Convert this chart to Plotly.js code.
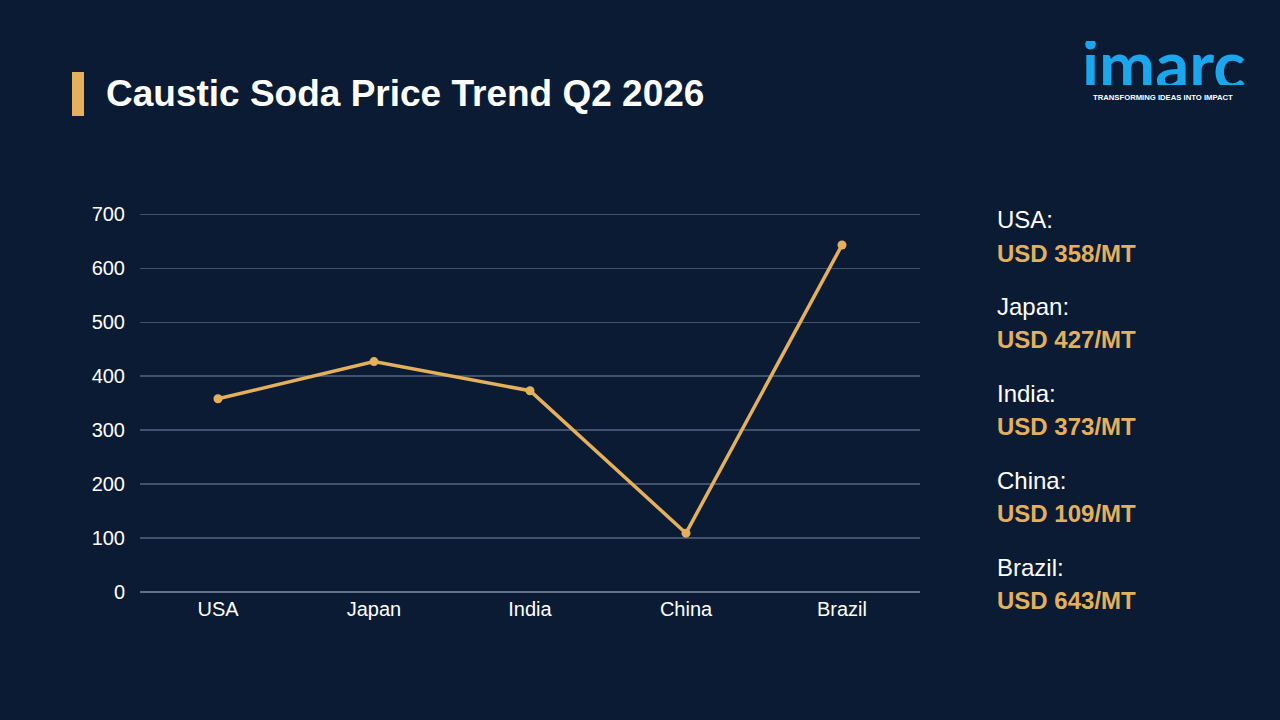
<!DOCTYPE html>
<html>
<head>
<meta charset="utf-8">
<script src="https://cdn.plot.ly/plotly-3.0.1.min.js"></script>
<style>
  html, body { margin: 0; padding: 0; background: #0c1b34; }
  #chart { width: 1280px; height: 720px; }
</style>
</head>
<body>
<div id="chart"></div>
<script>
// Caustic soda prices by country, Q2 2026 (USD per metric ton)
const countries = ["USA", "Japan", "India", "China", "Brazil"];
const prices = [358, 427, 373, 109, 643];
const yTicks = [0, 100, 200, 300, 400, 500, 600, 700];

const gold = "#e4b05c";
const font = "Liberation Sans, Arial, sans-serif";

// Plot frame in pixels, used to place the side texts in paper units
const W = 1280, H = 720;
const M = { l: 140, r: 360, t: 211, b: 128 };
const plotW = W - M.l - M.r, plotH = H - M.t - M.b;
const px = v => (v - M.l) / plotW;
const py = v => (H - M.b - v) / plotH;

const trace = {
  type: "scatter",
  mode: "lines+markers",
  x: countries,
  y: prices,
  line: { color: gold, width: 3.5 },
  marker: { color: gold, size: 9 },
  hoverinfo: "x+y"
};

// Price list on the right-hand side
const annotations = [];
countries.forEach((c, i) => {
  const top = 220 + i * 86.8;
  annotations.push({
    xref: "paper", yref: "paper", x: px(995), y: py(top),
    xanchor: "left", yanchor: "middle", showarrow: false,
    text: c + ":", font: { family: font, size: 24, color: "#ffffff" }
  });
  annotations.push({
    xref: "paper", yref: "paper", x: px(995), y: py(top + 33),
    xanchor: "left", yanchor: "middle", showarrow: false,
    text: "<b>USD " + prices[i] + "/MT</b>", font: { family: font, size: 24, color: gold }
  });
});

// Title
annotations.push({
  xref: "paper", yref: "paper", x: px(104), y: py(93),
  xanchor: "left", yanchor: "middle", showarrow: false,
  text: "<b>Caustic Soda Price Trend Q2 2026</b>",
  font: { family: font, size: 37, color: "#ffffff" }
});

// Brand mark
annotations.push({
  xref: "paper", yref: "paper", x: px(1163), y: py(63),
  xanchor: "center", yanchor: "middle", showarrow: false,
  height: 44,
  text: "<b>imarc</b>",
  font: { family: "Lato, Roboto, sans-serif", size: 67, color: "#1aa7ee" }
});
annotations.push({
  xref: "paper", yref: "paper", x: px(1163), y: py(98),
  xanchor: "center", yanchor: "middle", showarrow: false,
  text: "<b>TRANSFORMING IDEAS INTO IMPACT</b>",
  font: { family: font, size: 7.7, color: "#ffffff" }
});

const layout = {
  width: W,
  height: H,
  paper_bgcolor: "#0c1b34",
  plot_bgcolor: "rgba(0,0,0,0)",
  margin: M,
  showlegend: false,
  xaxis: {
    type: "category",
    range: [-0.5, 4.5],
    showgrid: false,
    zeroline: false,
    showline: false,
    ticks: "",
    ticklabelstandoff: 3,
    tickfont: { family: font, size: 20, color: "#ffffff" },
    fixedrange: true
  },
  yaxis: {
    range: [0, 706],
    tickvals: yTicks,
    ticktext: yTicks.map(String),
    showgrid: true,
    gridcolor: "rgba(140,160,190,0.42)",
    gridwidth: 1.3,
    zeroline: true,
    zerolinecolor: "rgba(150,170,200,0.6)",
    zerolinewidth: 1.5,
    showline: false,
    ticks: "",
    ticklabelstandoff: 14,
    tickfont: { family: font, size: 20, color: "#ffffff" },
    fixedrange: true
  },
  shapes: [
    // title accent bar
    {
      type: "rect", xref: "paper", yref: "paper",
      x0: px(72), x1: px(84), y0: py(116), y1: py(72),
      fillcolor: gold, line: { width: 0 }
    }
  ],
  annotations: annotations
};

Plotly.newPlot("chart", [trace], layout, { displayModeBar: false, staticPlot: true });
</script>
</body>
</html>
